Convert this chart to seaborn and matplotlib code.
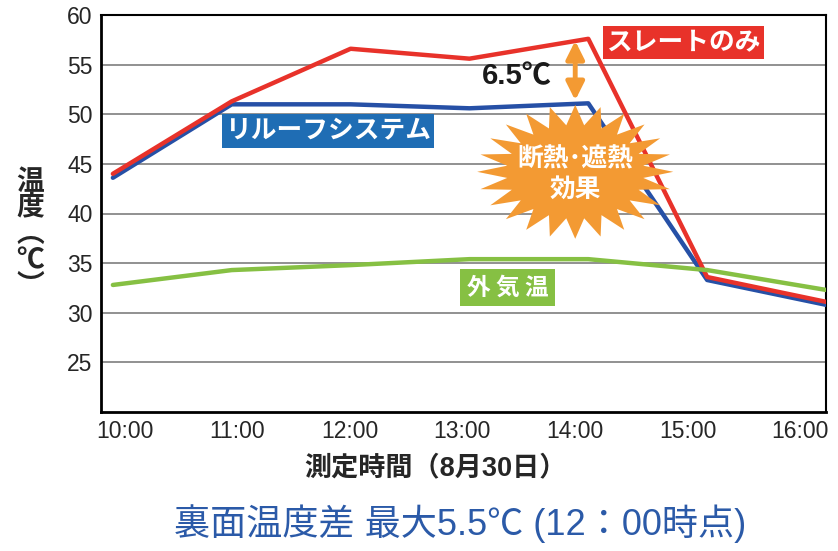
import numpy as np
import pandas as pd
import matplotlib
matplotlib.use("Agg")
import matplotlib.pyplot as plt
from matplotlib.patches import Polygon
import seaborn as sns

# ---- data ----
hours = [10, 11, 12, 13, 14, 15, 16]
tick_labels = ["10:00", "11:00", "12:00", "13:00", "14:00", "15:00", "16:00"]
slate_only = [44.0, 51.3, 56.6, 55.6, 57.6, 33.6, 31.1]      # スレートのみ
reroof = [43.6, 51.0, 51.0, 50.6, 51.1, 33.3, 30.8]          # リルーフシステム
outside = [32.8, 34.3, 34.8, 35.4, 35.4, 34.3, 32.3]         # 外気温
y_ticks = [25, 30, 35, 40, 45, 50, 55, 60]

sns.set_theme(style="white")
plt.rcParams["font.family"] = ["Liberation Sans", "Noto Sans CJK JP", "DejaVu Sans"]
CJK = ["Noto Sans CJK JP", "DejaVu Sans"]
MIX = ["Liberation Sans", "Noto Sans CJK JP", "DejaVu Sans"]

RED = "#e8322a"
BLUE = "#2650a6"
GREEN = "#86c043"
ORANGE = "#f39a33"

fig = plt.figure(figsize=(8.38, 5.51), dpi=100)
ax = fig.add_axes([101 / 838, 1 - 412 / 551, 725 / 838, 397 / 551])

df = pd.DataFrame({"hour": hours, "slate": slate_only, "reroof": reroof, "outside": outside})
sns.lineplot(data=df, x="hour", y="reroof", color=BLUE, lw=3.2, ax=ax, zorder=3)
sns.lineplot(data=df, x="hour", y="slate", color=RED, lw=3.2, ax=ax, zorder=4)
sns.lineplot(data=df, x="hour", y="outside", color=GREEN, lw=3.2, ax=ax, zorder=5)

ax.set_xlim(9.9, 16.0)
ax.set_ylim(20, 60)
ax.set_yticks(y_ticks)
ax.set_yticklabels([str(v) for v in y_ticks], fontsize=16.5)
# tick label positions as in the reference (evenly spaced, slightly inset)
tick_pos = [10.10 + i * 0.947 for i in range(len(tick_labels))]
ax.set_xticks(tick_pos)
ax.set_xticklabels(tick_labels, fontsize=16.5)
ax.tick_params(axis="both", length=0)
ax.tick_params(axis="y", pad=6)
ax.tick_params(axis="x", pad=6)
for v in y_ticks[:-1]:
    ax.axhline(v, color="#909090", lw=1.4, zorder=1)
ax.set_xlabel("")
ax.set_ylabel("")
for s in ["left", "bottom"]:
    ax.spines[s].set_linewidth(2.0)
    ax.spines[s].set_color("black")
for s in ["top", "right"]:
    ax.spines[s].set_linewidth(1.5)
    ax.spines[s].set_color("black")

# starburst
cx, cy = 13.89, 44.2
rx, ry = 0.825, 6.75
n = 24
ang = np.linspace(0, 2 * np.pi, 2 * n, endpoint=False) + np.pi / 2
rad = np.where(np.arange(2 * n) % 2 == 0, 1.0, 0.70)
verts = np.column_stack([cx + rx * rad * np.cos(ang), cy + ry * rad * np.sin(ang)])
ax.add_patch(Polygon(verts, closed=True, facecolor=ORANGE, edgecolor="none", zorder=6))
ax.text(cx, cy + 1.25, "断熱･遮熱", ha="center", va="center", color="white",
        fontsize=18.5, fontweight="bold", family=CJK, zorder=7)
ax.text(cx, cy - 1.8, "効果", ha="center", va="center", color="white",
        fontsize=18.5, fontweight="bold", family=CJK, zorder=7)

# double arrow
ax.annotate("", xy=(13.89, 57.4), xytext=(13.89, 51.4),
            arrowprops=dict(arrowstyle="<|-|>,head_width=0.45,head_length=0.9",
                            color=ORANGE, lw=3.5, shrinkA=0, shrinkB=0), zorder=7)
ax.text(13.40, 53.85, "6.5℃", ha="center", va="center", fontsize=21,
        fontweight="bold", color="#1a1a1a", family=MIX, zorder=7)

# labelled boxes
ax.text(14.80, 57.23, "スレートのみ", ha="center", va="center", color="white",
        fontsize=18.5, fontweight="bold", family=CJK, zorder=8,
        bbox=dict(boxstyle="square,pad=0.12", facecolor=RED, edgecolor="none"))
ax.text(11.81, 48.31, "リルーフシステム", ha="center", va="center", color="white",
        fontsize=18.5, fontweight="bold", family=CJK, zorder=8,
        bbox=dict(boxstyle="square,pad=0.12", facecolor="#1f6db4", edgecolor="none"))
ax.text(13.32, 32.54, "外 気 温", ha="center", va="center", color="white",
        fontsize=17, fontweight="bold", family=CJK, zorder=8,
        bbox=dict(boxstyle="square,pad=0.28", facecolor=GREEN, edgecolor="none"))

# axis titles
fig.text(30 / 838, 1 - 234 / 551, "温\n度\n︵\n℃\n︶", ha="center", va="center",
         fontsize=20, fontweight="bold", family=CJK, linespacing=0.92)
fig.text(435 / 838, 1 - 468 / 551, "測定時間（8月30日）", ha="center", va="center",
         fontsize=19.5, fontweight="bold", family=MIX)
fig.text(460 / 838, 1 - 524 / 551, "裏面温度差 最大5.5℃ (12：00時点)", ha="center",
         va="center", fontsize=26, color="#2b5aa8", family=MIX)

fig.savefig("out.png", dpi=100)
